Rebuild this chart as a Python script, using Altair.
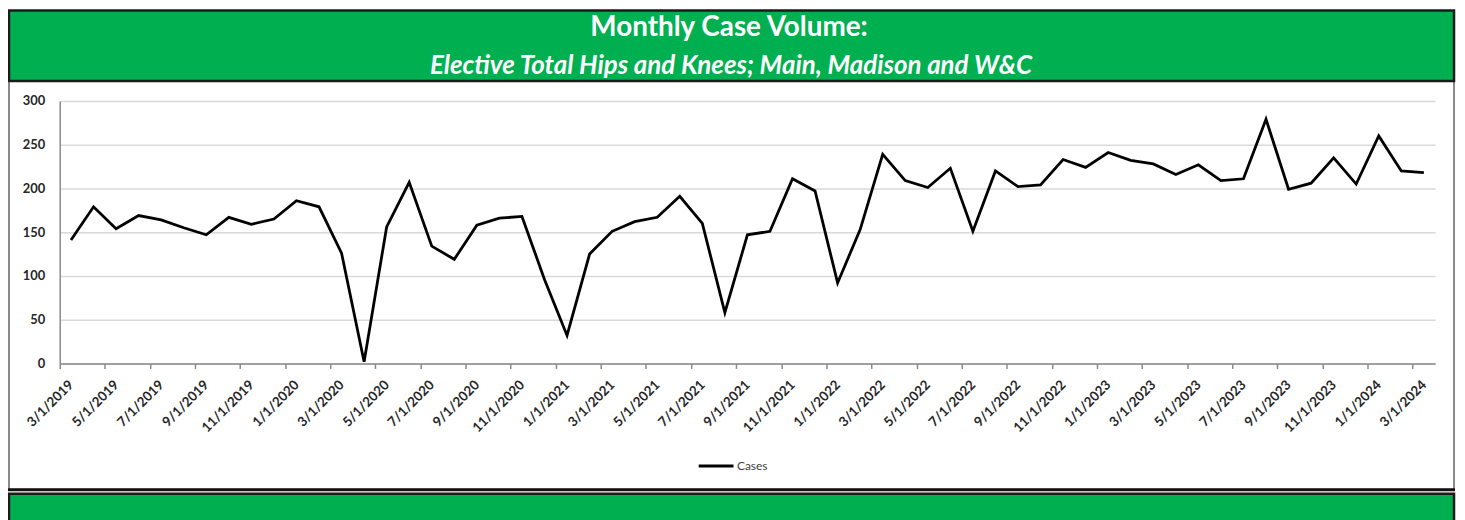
import altair as alt
import pandas as pd

# ---- data -------------------------------------------------------------
months = [f"{m}/1/{y}" for y in range(2019, 2025) for m in range(1, 13)]
months = months[months.index("3/1/2019"): months.index("3/1/2024") + 1]

cases = [141, 179, 154, 169, 164, 155, 147, 167, 159, 165,
         186, 179, 126, 2, 156, 207, 134, 119, 158, 166,
         168, 96, 32, 125, 151, 162, 167, 191, 160, 58,
         147, 151, 211, 197, 92, 153, 239, 209, 201, 223,
         151, 220, 202, 204, 233, 224, 241, 232, 228, 216,
         227, 209, 211, 279, 199, 206, 235, 205, 260, 220,
         218]

tick_labels = months[::2]
y_ticks = [0, 50, 100, 150, 200, 250, 300]

title_text = "Monthly Case Volume:"
subtitle_text = "Elective Total Hips and Knees; Main, Madison and W&C"
series_name = "Cases"

df = pd.DataFrame({"month": months, "cases": cases, "series": series_name})

# ---- layout -----------------------------------------------------------
W, H = 1383, 264
PAD = {"left": 52, "top": 92, "right": 22, "bottom": 156}
STEP = W / len(months)
GREEN = "#00B050"
FONT = "Lato"

one = alt.Data(values=[{"k": 1}])

body = alt.Chart(one).mark_rect(fillOpacity=0, stroke="#8a8a8a", strokeWidth=2).encode(
    x=alt.value(-51), x2=alt.value(1402), y=alt.value(-20), y2=alt.value(391)
)
body_bottom = alt.Chart(one).mark_rule(stroke="#111111", strokeWidth=3).encode(
    x=alt.value(-52), x2=alt.value(1403), y=alt.value(391)
)
header = alt.Chart(one).mark_rect(fill=GREEN, stroke="#1b1b1b", strokeWidth=2.5).encode(
    x=alt.value(-51), x2=alt.value(1402), y=alt.value(-91), y2=alt.value(-20)
)
footer = alt.Chart(one).mark_rect(fill=GREEN, stroke="#1b1b1b", strokeWidth=2.5).encode(
    x=alt.value(-51), x2=alt.value(1402), y=alt.value(395), y2=alt.value(430)
)
title = alt.Chart(one).mark_text(
    text=title_text, font=FONT, fontSize=28, fontWeight="bold", color="white",
    align="center", baseline="middle"
).encode(x=alt.value(673), y=alt.value(-73))
subtitle = alt.Chart(one).mark_text(
    text=subtitle_text, font=FONT, fontSize=26, fontWeight="bold", fontStyle="italic",
    color="white", align="center", baseline="middle"
).encode(x=alt.value(675), y=alt.value(-35))

line = alt.Chart(df).mark_line(strokeWidth=2.8, strokeJoin="miter").encode(
    x=alt.X(
        "month:O", sort=months,
        scale=alt.Scale(type="point", padding=0.5),
        axis=alt.Axis(
            title=None, values=tick_labels, labelAngle=-45, labelAlign="right",
            labelBaseline="middle", tickOffset=-STEP / 2, labelOffset=STEP / 2,
            tickSize=5, tickColor="#8a8a8a", tickWidth=1.5,
            domainColor="#8a8a8a", domainWidth=1.5, labelPadding=14,
            labelFont=FONT, labelFontSize=13.5, labelFontWeight="bold",
            labelColor="#262626", grid=False, labelOverlap=False,
        ),
    ),
    y=alt.Y(
        "cases:Q",
        scale=alt.Scale(domain=[0, 300], nice=False, zero=True),
        axis=alt.Axis(
            title=None, values=y_ticks, ticks=False, labelPadding=15,
            domainColor="#8a8a8a", domainWidth=1.5,
            gridColor="#d9d9d9", gridWidth=1.5,
            labelFont=FONT, labelFontSize=13, labelFontWeight="bold",
            labelColor="#262626",
        ),
    ),
    color=alt.Color(
        "series:N", scale=alt.Scale(range=["black"]),
        legend=alt.Legend(
            title=None, orient="none", legendX=641, legendY=348,
            symbolType="stroke", symbolStrokeWidth=3, symbolSize=1225,
            labelFont=FONT, labelFontSize=12, labelColor="#404040", labelOffset=2,
        ),
    ),
)

chart = alt.layer(body, header, footer, body_bottom, title, subtitle, line).properties(
    width=W, height=H,
    autosize=alt.AutoSizeParams(type="none"),
    padding=PAD,
    background="white",
).configure_view(strokeWidth=0)

chart.save("out.html", embed_options={"renderer": "svg", "actions": False})
